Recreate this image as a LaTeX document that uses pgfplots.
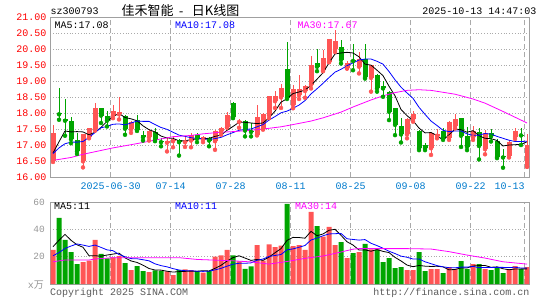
\documentclass[border=0pt]{standalone}
\usepackage{pgfplots}
\pgfplotsset{compat=1.18}
\usepackage{pgfplotstable}
\usepackage{fontspec}
\setmainfont{Liberation Mono}
\newfontfamily\cjk{Noto Sans CJK SC}
\definecolor{cRed}{RGB}{255,85,85}
\definecolor{cGreen}{RGB}{0,165,0}
\definecolor{cBlue}{RGB}{0,0,255}
\definecolor{cMag}{RGB}{255,0,255}
\definecolor{cDate}{RGB}{0,122,204}
\definecolor{cFrame}{RGB}{160,160,160}
\definecolor{cGrid}{RGB}{170,170,170}
\definecolor{cVol}{RGB}{150,150,150}
\definecolor{cFoot}{RGB}{90,90,90}

% rising candles: i open high low close volume
\pgfplotstableread{
i O H L C V
0 16.52 17.65 16.48 17.40 24.9
5 16.50 17.37 16.31 17.35 16.1
6 17.25 17.55 17.22 17.54 17.1
7 17.52 18.32 17.46 18.17 32.2
10 17.93 18.25 17.85 18.08 19.5
11 17.97 18.50 17.81 18.05 20.5
13 17.50 17.76 17.39 17.74 10.2
16 17.25 17.50 17.15 17.46 8.8
19 17.08 17.25 16.81 17.15 9.3
20 17.13 17.28 16.94 17.20 6.6
22 17.10 17.25 16.95 17.14 10.7
23 17.15 17.38 16.94 17.33 10.2
25 17.17 17.28 17.10 17.25 8.3
27 17.13 17.49 16.86 17.44 20.0
28 17.44 17.56 17.33 17.54 21.0
29 17.56 18.04 17.56 17.96 25.0
31 17.73 17.82 17.55 17.76 16.6
34 17.33 18.27 17.31 17.90 28.5
35 17.52 18.00 17.49 17.98 17.1
36 17.94 18.55 17.85 18.53 29.0
37 18.38 18.69 18.17 18.53 27.0
38 18.50 18.92 18.17 18.79 28.0
40 18.26 18.89 18.16 18.76 27.8
41 18.57 19.20 18.45 18.76 28.5
42 18.70 18.88 18.49 18.86 24.9
43 18.89 19.80 18.78 19.51 52.7
45 19.35 19.98 19.32 19.74 34.6
46 19.61 20.33 19.60 20.32 41.7
47 20.00 20.62 19.92 20.25 28.5
49 19.41 19.65 19.40 19.59 19.0
51 19.46 19.93 19.25 19.69 23.4
53 19.11 19.51 18.68 19.51 25.4
59 17.34 17.84 17.22 17.82 10.2
60 17.82 18.06 17.74 17.98 10.2
63 16.91 17.42 16.70 17.40 11.0
64 17.30 17.50 17.22 17.36 11.0
66 17.24 17.76 17.17 17.74 12.4
67 17.60 17.97 17.53 17.83 11.0
70 17.25 17.62 17.17 17.46 14.6
72 16.88 17.48 16.72 17.40 11.0
76 16.68 17.18 16.62 17.12 11.0
77 17.26 17.55 17.20 17.46 13.2
79 16.33 17.35 16.33 17.02 12.4
}\riseT

% falling candles
\pgfplotstableread{
i O H L C V
1 18.02 18.80 17.80 17.97 48.3
2 17.81 18.45 17.30 17.77 32.2
3 17.77 17.90 17.07 17.19 23.4
4 17.17 17.38 16.73 16.81 14.6
8 18.17 18.17 17.70 17.93 22.0
9 17.93 18.08 17.59 17.77 18.8
12 17.93 17.96 17.33 17.52 15.4
14 17.79 17.95 17.45 17.48 13.2
15 17.33 17.46 17.15 17.25 9.5
17 17.42 17.54 17.13 17.17 10.0
18 17.15 17.23 16.97 17.10 9.5
21 17.18 17.20 16.68 17.10 10.2
24 17.33 17.38 17.10 17.21 9.5
26 17.23 17.25 16.97 17.15 9.5
30 18.32 18.37 17.85 17.88 21.0
32 17.77 17.80 17.28 17.46 11.2
33 17.46 17.70 17.28 17.42 12.9
39 19.40 20.24 18.45 18.49 58.5
44 19.58 20.00 19.32 19.46 42.4
48 20.08 20.29 19.56 19.67 30.7
50 19.68 20.16 19.35 19.64 22.7
52 19.69 20.17 19.09 19.13 29.3
54 19.20 19.22 18.68 18.78 25.4
55 18.85 19.00 18.52 18.78 16.1
56 18.68 18.70 17.79 18.05 19.0
57 18.16 18.18 17.32 17.64 11.7
58 17.61 17.84 17.09 17.34 12.4
61 17.46 17.48 16.85 16.91 23.4
62 17.01 17.06 16.85 16.91 9.5
65 17.45 17.53 17.17 17.24 8.0
68 17.84 17.86 16.95 17.30 16.8
69 17.30 17.58 16.85 16.95 11.0
71 17.42 17.55 16.56 16.98 14.6
73 17.40 17.52 17.12 17.28 10.2
74 17.15 17.20 16.60 16.63 12.4
75 16.66 16.90 16.30 16.62 8.0
78 17.33 17.55 17.01 17.31 11.0
}\fallT

% price MA5 / MA10
\pgfplotstableread{
i m5 m10
0 16.76 16.74
1 17.11 16.92
2 17.45 17.05
3 17.42 17.10
4 17.43 17.10
5 17.42 17.12
6 17.33 17.25
7 17.41 17.40
8 17.56 17.55
9 17.75 17.59
10 17.90 17.66
11 18.00 17.67
12 17.87 17.64
13 17.83 17.70
14 17.77 17.76
15 17.61 17.75
16 17.49 17.75
17 17.42 17.65
18 17.29 17.56
19 17.23 17.50
20 17.22 17.41
21 17.14 17.32
22 17.14 17.28
23 17.18 17.24
24 17.20 17.21
25 17.21 17.21
26 17.22 17.18
27 17.28 17.21
28 17.32 17.25
29 17.47 17.33
30 17.59 17.40
31 17.72 17.47
32 17.72 17.50
33 17.70 17.51
34 17.68 17.58
35 17.70 17.65
36 17.86 17.79
37 18.07 17.90
38 18.35 18.02
39 18.46 18.07
40 18.62 18.16
41 18.67 18.26
42 18.73 18.40
43 18.88 18.61
44 19.07 18.77
45 19.27 18.94
46 19.58 19.12
47 19.86 19.29
48 19.89 19.38
49 19.91 19.49
50 19.89 19.58
51 19.77 19.67
52 19.54 19.70
53 19.51 19.70
54 19.35 19.63
55 19.18 19.54
56 18.85 19.31
57 18.55 19.05
58 18.12 18.82
59 17.93 18.64
60 17.77 18.47
61 17.54 18.19
62 17.39 17.97
63 17.40 17.76
64 17.31 17.62
65 17.16 17.47
66 17.33 17.43
67 17.51 17.45
68 17.49 17.45
69 17.41 17.36
70 17.46 17.31
71 17.30 17.32
72 17.22 17.37
73 17.21 17.35
74 17.15 17.28
75 16.98 17.22
76 17.01 17.16
77 17.02 17.12
78 17.03 17.12
79 17.11 17.13
}\pmaT

% price MA30
\pgfplotstableread{
i v
0 16.53
3 16.62
5 16.72
8 16.84
10 16.92
13 17.02
15 17.09
18 17.20
20 17.27
23 17.31
25 17.36
28 17.41
30 17.43
33 17.47
35 17.51
38 17.58
40 17.65
43 17.76
45 17.86
48 18.04
50 18.20
53 18.42
55 18.55
57 18.65
59 18.72
61 18.74
63 18.72
65 18.66
67 18.60
70 18.45
72 18.32
75 18.06
77 17.88
79 17.70
}\pmaThirty

% volume MA5 / MA10
\pgfplotstableread{
i m5 m10
0 27.3 20.7
1 32.0 23.0
2 36.3 26.0
3 32.0 27.8
4 28.7 29.3
5 26.9 28.5
6 20.7 27.5
7 20.7 28.5
8 20.4 26.8
9 21.2 25.0
10 21.9 24.4
11 22.6 21.6
12 19.2 20.0
13 16.9 18.6
14 15.8 18.5
15 13.8 17.8
16 11.4 17.0
17 10.3 14.8
18 10.2 13.5
19 9.4 12.6
20 8.8 11.3
21 9.1 10.3
22 9.3 9.8
23 9.4 9.8
24 9.4 9.4
25 9.8 9.3
26 9.6 9.4
27 11.5 10.4
28 13.7 11.5
29 16.8 13.1
30 19.3 14.5
31 20.7 15.2
32 19.0 15.2
33 17.3 15.5
34 18.0 17.4
35 17.3 18.3
36 19.7 20.2
37 22.9 20.9
38 25.9 21.6
39 31.9 25.0
40 34.1 25.7
41 34.0 26.9
42 33.5 28.2
43 38.5 32.2
44 35.3 33.6
45 36.6 35.3
46 39.3 36.6
47 40.0 36.8
48 35.6 37.0
49 30.9 33.1
50 28.5 32.6
51 24.9 32.1
52 25.0 32.5
53 24.0 29.8
54 25.2 28.1
55 23.9 26.2
56 23.0 24.0
57 19.5 22.3
58 16.9 20.4
59 13.9 19.6
60 12.7 18.3
61 13.6 18.3
62 13.1 16.3
63 12.9 14.9
64 13.0 13.5
65 12.6 12.6
66 10.4 12.0
67 10.7 11.9
68 11.8 12.4
69 11.8 12.4
70 13.2 12.9
71 13.6 12.0
72 13.6 12.1
73 12.3 12.1
74 12.6 12.2
75 11.2 12.2
76 10.5 12.1
77 11.0 12.3
78 11.1 11.7
79 11.1 11.8
}\vmaT

% volume MA30
\pgfplotstableread{
i v
0 16.3
2 17.6
6 17.6
7 18.3
10 19.3
21 19.3
24 18.0
30 17.0
33 16.2
36 14.6
39 16.5
42 18.8
45 20.5
47 22.4
50 25.5
51 25.9
59 25.9
63 25.6
66 23.7
69 21.2
72 19.0
75 16.3
79 14.6
}\vmaThirty

\pgfplotsset{
  kchart/.style={
    scale only axis, anchor=south west,
    width=479pt, xmin=-0.5, xmax=79.33,
    axis line style={cFrame, line width=0.8pt},
    major tick length=0pt,
    xtick={9.6,19.6,29.6,39.6,49.6,59.6,69.6,78.6},
    xmajorgrids, ymajorgrids,
    major grid style={cGrid, line width=0.8pt},
    every axis x grid/.style={dash pattern=on 5pt off 3pt},
    every axis y grid/.style={dash pattern=on 0.8pt off 2pt},
    /pgf/number format/assume math mode=true,
    ticklabel style={font=\fontsize{10}{10}\selectfont},
  },
}

\begin{document}
\begin{tikzpicture}
\path[use as bounding box] (0pt,0pt) rectangle (545pt,300pt);

% ---------- price panel ----------
\begin{axis}[kchart,
  at={(50pt,122.7pt)}, height=159.8pt,
  ymin=16, ymax=21,
  xticklabels={2025-06-30,07-14,07-28,08-11,08-25,09-08,09-22,\llap{10-13}},
  xticklabel style={text=cDate, inner sep=0pt, anchor=north, yshift=-5.5pt},
  ytick={16,16.5,...,21},
  yticklabels={16.00,16.50,17.00,17.50,18.00,18.50,19.00,19.50,20.00,20.50,21.00},
  yticklabel style={text=red, inner sep=0pt, anchor=east, xshift=-3.3pt},
]
% wicks
\addplot[cRed, only marks, mark=none, forget plot,
  error bars/.cd, y dir=plus, y explicit, error mark=none,
  error bar style={line width=1pt, cRed}]
  table[x=i, y=L, y error plus expr=\thisrow{H}-\thisrow{L}] {\riseT};
\addplot[cGreen, only marks, mark=none, forget plot,
  error bars/.cd, y dir=plus, y explicit, error mark=none,
  error bar style={line width=1pt, cGreen}]
  table[x=i, y=L, y error plus expr=\thisrow{H}-\thisrow{L}] {\fallT};
% bodies
\addplot[cRed, only marks, mark=none, forget plot,
  error bars/.cd, y dir=plus, y explicit, error mark=none,
  error bar style={line width=5pt, cRed}]
  table[x=i, y=O, y error plus expr=\thisrow{C}-\thisrow{O}] {\riseT};
\addplot[cGreen, only marks, mark=none, forget plot,
  error bars/.cd, y dir=plus, y explicit, error mark=none,
  error bar style={line width=5pt, cGreen}]
  table[x=i, y=C, y error plus expr=\thisrow{O}-\thisrow{C}] {\fallT};
% moving averages
\addplot[black, line width=0.8pt, mark=none] table[x=i, y=m5] {\pmaT};
\addplot[cBlue, line width=0.8pt, mark=none] table[x=i, y=m10] {\pmaT};
\addplot[cMag, line width=0.8pt, mark=none] table[x=i, y=v] {\pmaThirty};
\end{axis}

% ---------- volume panel ----------
\begin{axis}[kchart,
  at={(50pt,15.9pt)}, height=82.2pt,
  ymin=0, ymax=60,
  xticklabels={},
  ytick={20,40,60},
  yticklabels={20,40,60},
  yticklabel style={text=cVol, inner sep=0pt, anchor=east, xshift=-5pt, font=\fontsize{9.5}{10}\selectfont},
]
\addplot[ybar, bar width=5pt, bar shift=0pt, fill=cRed, draw=none] table[x=i, y=V] {\riseT};
\addplot[ybar, bar width=5pt, bar shift=0pt, fill=cGreen, draw=none] table[x=i, y=V] {\fallT};
\addplot[black, line width=0.8pt, mark=none] table[x=i, y=m5] {\vmaT};
\addplot[cBlue, line width=0.8pt, mark=none] table[x=i, y=m10] {\vmaT};
\addplot[cMag, line width=0.8pt, mark=none] table[x=i, y=v] {\vmaThirty};
\end{axis}

% ---------- texts ----------
\begin{scope}[every node/.style={inner sep=0pt, font=\fontsize{10}{10}\selectfont}]
\node[anchor=west] at (50.5pt,289pt) {sz300793};
\node[anchor=west] at (121.5pt,289.5pt) {\cjk\fontsize{13}{13}\selectfont 佳禾智能\hspace{4pt}{\fontsize{12}{12}\selectfont\rmfamily -}\hspace{7pt}日K线图};
\node[anchor=east] at (536.5pt,289pt) {2025-10-13 14:47:03};
\node[anchor=west] at (54.5pt,275pt) {MA5:17.08};
\node[anchor=west, text=cBlue] at (175pt,275pt) {MA10:17.08};
\node[anchor=west, text=cMag] at (297.5pt,275pt) {MA30:17.67};
\node[anchor=west] at (54pt,94pt) {MA5:11};
\node[anchor=west, text=cBlue] at (175pt,94pt) {MA10:11};
\node[anchor=west, text=cMag] at (295pt,94pt) {MA30:14};
\node[anchor=east, text=cVol] at (44pt,14.5pt) {x{\cjk 万}};
\node[anchor=west, text=cFoot] at (50pt,7.5pt) {Copyright 2025 SINA.COM};
\node[anchor=east, text=cFoot] at (529.5pt,7.5pt) {http://finance.sina.com.cn};
\end{scope}
\end{tikzpicture}
\end{document}
